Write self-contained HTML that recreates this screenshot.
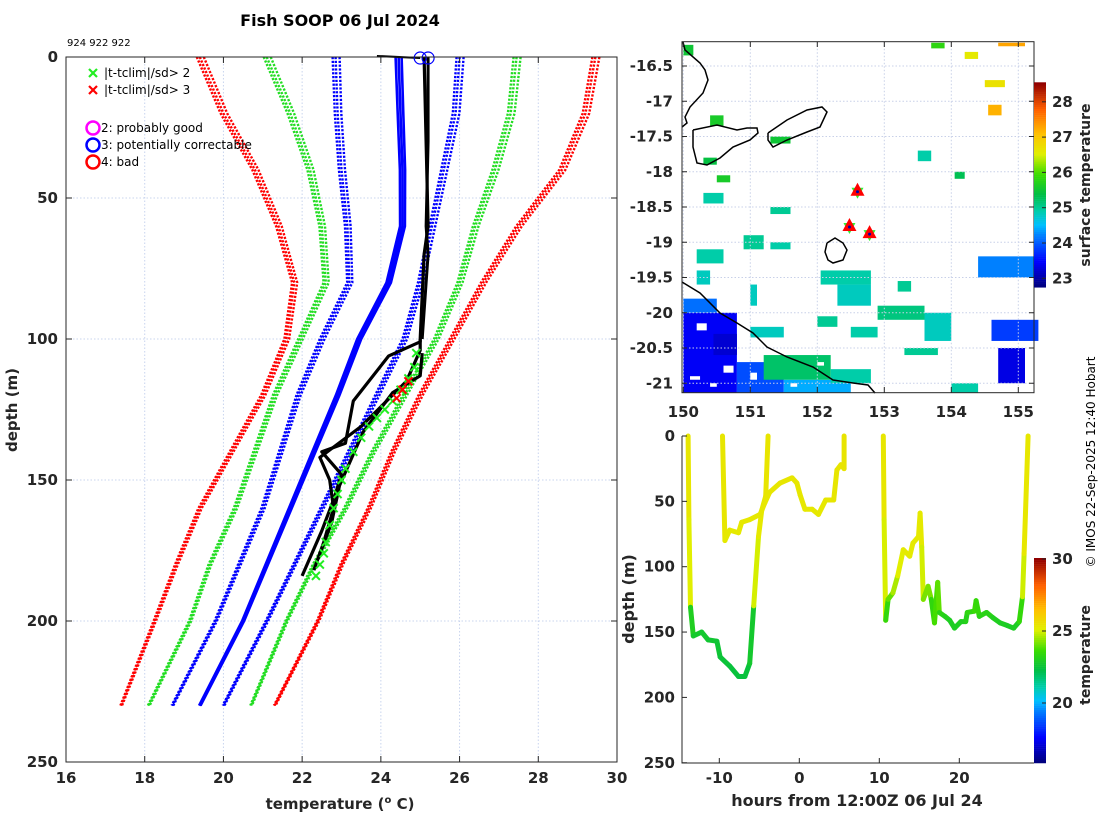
<!DOCTYPE html>
<html><head><meta charset="utf-8"><style>
html,body{margin:0;padding:0;background:#fff;}
svg{display:block;font-family:"DejaVu Sans","Liberation Sans",sans-serif;}
.tk{font-size:15px;font-weight:bold;fill:#262626;}
.lg{font-size:12px;fill:#000;}
</style></head><body>
<svg id="fig" width="1100" height="820" viewBox="0 0 1100 820" xmlns="http://www.w3.org/2000/svg">
<rect width="1100" height="820" fill="#fff"/>
<text x="340" y="26" text-anchor="middle" font-size="16" font-weight="bold">Fish SOOP 06 Jul 2024</text>
<text x="67" y="46" font-size="10">924 922 922</text>
<g id="left"></g>
<g id="map"></g>
<g id="bot"></g>
<text transform="translate(1095,462) rotate(-90)" text-anchor="middle" font-size="12">© IMOS 22-Sep-2025 12:40 Hobart</text>
</svg>
<script>
// ---------- data: left profile plot ----------
const climDepths = [0,20,40,60,80,100,120,140,160,180,200,230];
const climMean   = [24.45,24.5,24.55,24.55,24.2,23.45,22.9,22.3,21.7,21.1,20.5,19.4];
const blueLow    = [22.85,22.9,23.0,23.15,23.2,22.5,21.9,21.45,21.0,20.4,19.8,18.7];
const blueHigh   = [26.0,25.9,25.6,25.3,25.0,24.6,23.9,23.2,22.5,21.8,21.1,20.0];
const greenLow   = [21.1,21.7,22.2,22.5,22.6,21.95,21.3,20.8,20.3,19.65,19.15,18.1];
const greenHigh  = [27.45,27.3,26.9,26.4,26.0,25.4,24.6,23.8,23.1,22.3,21.6,20.7];
const redLow     = [19.4,20.0,20.8,21.4,21.8,21.6,21.0,20.2,19.4,18.8,18.25,17.4];
const redHigh    = [29.45,29.2,28.6,27.5,26.6,25.8,25.0,24.3,23.7,23.0,22.4,21.3];
const cast1Depth = [0,30,60,70,100,101,106,122,137,140,148,157,168,184];
const cast1Temp  = [25.1,25.15,25.2,25.1,25.0,25.0,24.2,23.3,23.1,22.5,23.0,22.8,22.5,22.0];
const cast2Depth = [100,104,115,124,131,142,150,160,172,182];
const cast2Temp  = [25.0,25.0,24.65,24.0,23.5,22.45,22.7,22.8,22.55,22.3];
const cast3Depth = [105,113,119,133,152,165,178];
const cast3Temp  = [25.05,25.0,24.3,23.55,22.95,22.75,22.4];
const flagDepth  = [105,110,114,118,122,125,128,131,135,140,146,150,155,160,166,172,176,180,184];
const flagTemp   = [24.9,24.85,24.7,24.5,24.3,24.1,23.9,23.7,23.5,23.3,23.1,23.0,22.9,22.8,22.7,22.6,22.55,22.45,22.35];
const badDepth   = [115,118,121];
const badTemp    = [24.7,24.55,24.4];
const tempTicks  = [16,18,20,22,24,26,28,30];
const depthTicks = [0,50,100,150,200,250];
// ---------- data: bottom depth-time ----------
const segAHours = [-13.9,-13.8,-13.6,-13.25,-12.2,-11.4,-10.3,-9.9,-8.7,-7.6,-6.8,-6.2,-5.7,-5.1,-4.7,-4.2,-3.9];
const segADepth = [0,64,131,153,150,156,157,169,176,184,184,174,130,77,57,46,0];
const segBHours = [-9.6,-9.3,-8.7,-7.6,-7.2,-6.2,-4.9,-4.3,-3.7,-2.4,-0.9,-0.3,0.1,0.7,1.6,2.4,3.3,4.3,4.7,5.2,5.6,5.6];
const segBDepth = [0,80,72,74,66,64,60,51,43,36,32,36,45,56,56,60,49,49,26,22,25,0];
const segCHours = [10.5,10.6,10.8,11.1,11.7,12.3,13,13.8,14.2,14.9,15.1,15.3,15.5,16.1,16.5,16.9,17.3,17.5,18.2,18.8,19.4,20.2,20.8,21,21.9,22.1,22.5,23.4,24.2,25.1,26,26.8,27.5,27.9,28.1,28.6];
const segCDepth = [0,64,141,125,120,107,87,92,82,77,59,85,125,115,125,143,112,135,138,141,147,142,142,135,134,126,138,135,139,143,145,147,142,123,90,0];
const colorDepth = [0,90,110,125,140,155,190];
const colorTemp  = [25.4,25.2,24.8,23.8,23.0,22.6,22.3];
const hourTicks  = [-10,0,10,20];
const botDepthTicks = [0,50,100,150,200,250];
const cbar2Ticks = [20,25,30];
// ---------- data: map ----------
const lonTicks = [150,151,152,153,154,155];
const latTicks = [-16.5,-17,-17.5,-18,-18.5,-19,-19.5,-20,-20.5,-21];
const cbar1Ticks = [23,24,25,26,27,28];
const dropLon = [152.6,152.48,152.78];
const dropLat = [-18.27,-18.77,-18.87];
const sstPatches = [
 [150,-20.0,150.8,-21.13,23.4],[150.45,-20.3,150.8,-20.6,23.2],[150.8,-20.7,151.5,-21.13,23.9],[151.5,-20.95,152.5,-21.13,24.4],
 [150.0,-19.8,150.5,-20.0,24.1],[151.2,-20.6,152.2,-20.95,25.2],[152.2,-20.8,152.8,-21.0,24.9],
 [152.05,-19.4,152.8,-19.6,24.9],[152.3,-19.6,152.8,-19.9,24.8],[152.9,-19.9,153.6,-20.1,25.1],[153.6,-20.0,154.0,-20.4,24.8],
 [150.3,-18.3,150.6,-18.45,24.9],[150.9,-18.9,151.2,-19.1,25.0],[151.3,-18.5,151.6,-18.6,25.0],[151.3,-19.0,151.6,-19.1,24.9],
 [150.2,-19.1,150.6,-19.3,24.9],[150.2,-19.4,150.4,-19.6,24.8],[151.0,-19.6,151.1,-19.9,24.8],[153.2,-19.55,153.4,-19.7,25.0],
 [151.0,-20.2,151.5,-20.35,24.8],[152.5,-20.2,152.9,-20.35,24.9],[153.3,-20.5,153.8,-20.6,25.0],[152.0,-20.05,152.3,-20.2,25.0],
 [154.4,-19.2,155.3,-19.5,24.2],[154.6,-20.1,155.3,-20.4,23.8],[154.7,-20.5,155.1,-21.0,23.3],[154.0,-21.0,154.4,-21.13,24.9],
 [154.5,-16.7,154.8,-16.8,26.7],[154.55,-17.05,154.75,-17.2,27.2],[154.7,-16.17,155.1,-16.22,27.3],[153.7,-16.17,153.9,-16.25,25.8],[154.2,-16.3,154.4,-16.4,26.6],
 [150.4,-17.2,150.6,-17.35,25.6],[151.3,-17.5,151.6,-17.6,25.5],[150.3,-17.8,150.5,-17.9,25.4],[150.5,-18.05,150.7,-18.15,25.6],[150.0,-16.2,150.15,-16.35,25.5],
 [153.5,-17.7,153.7,-17.85,24.9],[154.05,-18.0,154.2,-18.1,25.3]
];
// ---------- helpers ----------
const NS='http://www.w3.org/2000/svg';
function mk(tag,parent,attrs){const e=document.createElementNS(NS,tag);for(const k in attrs)e.setAttribute(k,attrs[k]);parent.appendChild(e);return e;}
const cstops=[[0,[0,0,127]],[0.12,[0,0,255]],[0.25,[0,128,255]],[0.3,[0,192,255]],[0.37,[0,205,170]],[0.45,[0,190,70]],[0.55,[60,220,0]],[0.65,[225,240,0]],[0.75,[255,192,0]],[0.87,[255,96,0]],[1,[144,0,0]]];
function cmap(t){t=Math.max(0,Math.min(1,t));for(let i=1;i<cstops.length;i++){if(t<=cstops[i][0]){const a=cstops[i-1],b=cstops[i];const f=(t-a[0])/(b[0]-a[0]);const c=a[1].map((v,j)=>Math.round(v+(b[1][j]-v)*f));return `rgb(${c})`;}}return 'rgb(144,0,0)';}
function interp(x,xs,ys){if(x<=xs[0])return ys[0];for(let i=1;i<xs.length;i++){if(x<=xs[i]){return ys[i-1]+(ys[i]-ys[i-1])*(x-xs[i-1])/(xs[i]-xs[i-1]);}}return ys[ys.length-1];}

// ---------- left plot ----------
const L=document.getElementById('left');
const xT=t=>66+(t-16)*39.357, yD=d=>57+d*2.82;
tempTicks.forEach(t=>{if(t>16&&t<30){const g=mk('line',L,{x1:xT(t),x2:xT(t),y1:57,y2:762,stroke:'#c8d4ee','stroke-dasharray':'1.5 2','stroke-width':1});}});
depthTicks.forEach(d=>{if(d>0&&d<250){const g=mk('line',L,{x1:66,x2:617,y1:yD(d),y2:yD(d),stroke:'#c8d4ee','stroke-dasharray':'1.5 2','stroke-width':1});}});
function dline(vals,color,dash,w,off,name){
  const pts=climDepths.map((d,i)=>(xT(vals[i])+off*(1-d/300)).toFixed(1)+','+yD(d).toFixed(1)).join(' ');
  const p=mk('polyline',L,{points:pts,fill:'none',stroke:color,'stroke-width':w});
  if(dash)p.setAttribute('stroke-dasharray',dash);
  
  
}
[[redLow,'#ff0000','red-low-bound'],[redHigh,'#ff0000','red-high-bound'],[greenLow,'#22dd22','green-low-bound'],[greenHigh,'#22dd22','green-high-bound'],[blueLow,'#0000ff','blue-low-bound'],[blueHigh,'#0000ff','blue-high-bound']].forEach(([v,c,n])=>{
  [-3,0,4].forEach(o=>dline(v,c,'2.2 1.6',2.4,o,n));
});
[-3,0,3].forEach(o=>dline(climMean,'#0000ff',null,2.6,o,'climatology-mean'));
const surf=mk('line',L,{x1:xT(23.9),y1:56,x2:xT(25.0),y2:58,stroke:'#000','stroke-width':2});


[[cast1Depth,cast1Temp,'cast-1'],[cast2Depth,cast2Temp,'cast-2'],[cast3Depth,cast3Temp,'cast-3']].forEach(([ds,ts,n])=>{
  const p=mk('polyline',L,{points:ds.map((d,i)=>xT(ts[i]).toFixed(1)+','+yD(d).toFixed(1)).join(' '),fill:'none',stroke:'#000','stroke-width':3.2,'stroke-linejoin':'round'});
  
  
});
const castUp=mk('polyline',L,{points:[0,30,60,70,100].map((d,i)=>xT([25.2,25.2,25.15,25.2,25.05][i])+','+yD(d)).join(' '),fill:'none',stroke:'#000','stroke-width':3});


function xmark(x,y,c,name){const g=mk('g',L,{});
  mk('line',g,{x1:x-4,y1:y-4,x2:x+4,y2:y+4,stroke:c,'stroke-width':2});mk('line',g,{x1:x-4,y1:y+4,x2:x+4,y2:y-4,stroke:c,'stroke-width':2});}
flagDepth.forEach((d,i)=>xmark(xT(flagTemp[i]),yD(d),'#22ee22','flag-2sd'));
badDepth.forEach((d,i)=>xmark(xT(badTemp[i]),yD(d),'#ff0000','flag-3sd'));
[25.0,25.2].forEach(t=>{const c=mk('circle',L,{cx:xT(t),cy:58,r:6,fill:'none',stroke:'#0000ff','stroke-width':1.2});});
const fr=mk('rect',L,{x:66,y:57,width:551,height:705,fill:'none',stroke:'#262626','stroke-width':1});


tempTicks.forEach(t=>{mk('line',L,{x1:xT(t),x2:xT(t),y1:762,y2:756,stroke:'#262626'});mk('line',L,{x1:xT(t),x2:xT(t),y1:57,y2:63,stroke:'#262626'});
  const e=mk('text',L,{x:xT(t),y:783,'text-anchor':'middle',class:'tk'});e.textContent=t;});
depthTicks.forEach(d=>{mk('line',L,{x1:66,x2:72,y1:yD(d),y2:yD(d),stroke:'#262626'});mk('line',L,{x1:617,x2:611,y1:yD(d),y2:yD(d),stroke:'#262626'});
  const e=mk('text',L,{x:58,y:yD(d)+5,'text-anchor':'end',class:'tk'});e.textContent=d;});
let e=mk('text',L,{x:340,y:809,'text-anchor':'middle','font-size':15,'font-weight':'bold',fill:'#262626'});
e.innerHTML='temperature (<tspan dy="-6" font-size="10">o</tspan><tspan dy="6"> C)</tspan>';


e=mk('text',L,{transform:'translate(17,410) rotate(-90)','text-anchor':'middle','font-size':15,'font-weight':'bold',fill:'#262626'});e.textContent='depth (m)';


const lgItems=[['x','#22ee22','|t-tclim|/sd> 2',73],['x','#ff0000','|t-tclim|/sd> 3',90],['o','#ff00ff','2: probably good',128],['o','#0000ff','3: potentially correctable',145],['o','#ff0000','4: bad',162]];
lgItems.forEach(([k,c,txt,y])=>{
  const g=mk('g',L,{});
  if(k==='x'){mk('line',g,{x1:89,y1:y-4,x2:97,y2:y+4,stroke:c,'stroke-width':2.2});mk('line',g,{x1:89,y1:y+4,x2:97,y2:y-4,stroke:c,'stroke-width':2.2});}
  else mk('circle',g,{cx:93,cy:y,r:6.5,fill:'none',stroke:c,'stroke-width':2.5});
  const t=mk('text',g,{x:k==='x'?104:101,y:y+4,class:'lg'});t.textContent=txt;
});

// ---------- map ----------
const M=document.getElementById('map');
const xL=lon=>683.3+(lon-150)*67, yL=lat=>66+(-16.5-lat)*70.5;
const sstT=v=>(v-22.75)/5.8;
sstPatches.forEach(p=>{const r=mk('rect',M,{x:xL(p[0]),y:yL(p[1]),width:xL(p[2])-xL(p[0]),height:yL(p[3])-yL(p[1]),fill:cmap(sstT(p[4]))});
  });
[[150.2,-20.15,150.35,-20.25],[150.6,-20.75,150.75,-20.85],[150.1,-20.9,150.25,-20.95],[150.4,-21.0,150.5,-21.05],[151.0,-20.85,151.1,-20.95],[151.6,-21.0,151.7,-21.05],[152.0,-20.7,152.1,-20.75]].forEach(p=>{mk('rect',M,{x:xL(p[0]),y:yL(p[1]),width:xL(p[2])-xL(p[0]),height:yL(p[3])-yL(p[1]),fill:'#fff'});});
lonTicks.forEach(l=>{const g=mk('line',M,{x1:xL(l),x2:xL(l),y1:41.7,y2:392.7,stroke:'#c8d0e8','stroke-dasharray':'1.5 2'});});
latTicks.forEach(l=>{const g=mk('line',M,{x1:682,x2:1034,y1:yL(l),y2:yL(l),stroke:'#c8d0e8','stroke-dasharray':'1.5 2'});});
const coasts=[
 '693,130 717,125 737,130 747,128 757,128 758,133 750,140 733,147 720,158 707,165 697,163 693,147 693,130',
 '768,133 787,120 807,110 822,107 827,112 820,127 807,132 787,140 773,147 768,140 768,133',
 '827,243 835,238 843,243 847,250 843,260 833,263 828,260 825,252 827,243',
 '683,42 685,50 700,63 705,70 708,80 703,93 690,107 685,117 687,123 682,127',
 '682,282 700,293 720,313 737,323 753,333 767,347 787,357 813,367 833,380 853,383 868,385 875,393'];
coasts.forEach(c=>{const p=mk('polyline',M,{points:c,fill:'none',stroke:'#000','stroke-width':1.5});});
dropLon.forEach((lo,i)=>{const x=xL(lo),y=yL(dropLat[i]);const g=mk('g',M,{});
  mk('polygon',g,{points:`${x-6},${y-3} ${x+6},${y-3} ${x},${y+8}`,fill:'#33ee33'});
  mk('polygon',g,{points:`${x},${y-8} ${x-7},${y+5} ${x+7},${y+5}`,fill:'#ff0000'});
  mk('circle',g,{cx:x,cy:y+1,r:1.5,fill:'#0000aa'});});
let mf=mk('rect',M,{x:682,y:41.7,width:352,height:351,fill:'none',stroke:'#262626'});


lonTicks.forEach(l=>{mk('line',M,{x1:xL(l),x2:xL(l),y1:392.7,y2:387,stroke:'#262626'});mk('line',M,{x1:xL(l),x2:xL(l),y1:41.7,y2:47,stroke:'#262626'});
  const t=mk('text',M,{x:xL(l),y:417,'text-anchor':'middle',class:'tk'});t.textContent=l;});
latTicks.forEach(l=>{mk('line',M,{x1:682,x2:687,y1:yL(l),y2:yL(l),stroke:'#262626'});mk('line',M,{x1:1034,x2:1029,y1:yL(l),y2:yL(l),stroke:'#262626'});
  const t=mk('text',M,{x:673,y:yL(l)+5,'text-anchor':'end',class:'tk'});t.textContent=l;});
const cb1=mk('g',M,{});
for(let i=0;i<100;i++){const y0=82.3+i*2.05;mk('rect',cb1,{x:1034,y:y0,width:12,height:2.3,fill:cmap(1-i/99)});}
const yC1=v=>278.3-(v-23)*35.3;
cbar1Ticks.forEach(v=>{mk('line',cb1,{x1:1046,x2:1042,y1:yC1(v),y2:yC1(v),stroke:'#262626'});const t=mk('text',cb1,{x:1052,y:yC1(v)+5,class:'tk','font-size':14});t.textContent=v;});
const ct1=mk('text',M,{transform:'translate(1090,185) rotate(-90)','text-anchor':'middle','font-size':14,'font-weight':'bold',fill:'#262626'});ct1.textContent='surface temperature';



// ---------- bottom ----------
const B=document.getElementById('bot');
const xH=h=>799.3+h*8, yB=d=>436+d*1.307;
const tempT=v=>(v-15.8)/14.2;
function seg(hs,ds,name){
  const g=mk('g',B,{});
  for(let i=1;i<hs.length;i++){
    const dm=(ds[i]+ds[i-1])/2;
    mk('line',g,{x1:xH(hs[i-1]),y1:yB(ds[i-1]),x2:xH(hs[i]),y2:yB(ds[i]),stroke:cmap(tempT(interp(dm,colorDepth,colorTemp))),'stroke-width':5,'stroke-linecap':'round'});
  }
}
seg(segAHours,segADepth,'profile-track-1');
seg(segBHours,segBDepth,'profile-track-2');
seg(segCHours,segCDepth,'profile-track-3');
let bf=mk('polyline',B,{points:'682,436 682,763 1034,763',fill:'none',stroke:'#262626'});


hourTicks.forEach(h=>{mk('line',B,{x1:xH(h),x2:xH(h),y1:763,y2:758,stroke:'#262626'});
  const t=mk('text',B,{x:xH(h),y:783,'text-anchor':'middle',class:'tk'});t.textContent=h;});
botDepthTicks.forEach(d=>{mk('line',B,{x1:682,x2:687,y1:yB(d),y2:yB(d),stroke:'#262626'});
  const t=mk('text',B,{x:675,y:yB(d)+5,'text-anchor':'end',class:'tk'});t.textContent=d;});
e=mk('text',B,{x:857,y:806,'text-anchor':'middle','font-size':16,'font-weight':'bold',fill:'#262626'});e.textContent='hours from 12:00Z 06 Jul 24';


e=mk('text',B,{transform:'translate(634,599) rotate(-90)','text-anchor':'middle','font-size':16,'font-weight':'bold',fill:'#262626'});e.textContent='depth (m)';


const cb2=mk('g',B,{});
for(let i=0;i<100;i++){const y0=558+i*2.05;mk('rect',cb2,{x:1034,y:y0,width:12,height:2.3,fill:cmap(1-i/99)});}
const yC2=v=>703-(v-20)*14.4;
cbar2Ticks.forEach(v=>{mk('line',cb2,{x1:1046,x2:1042,y1:yC2(v),y2:yC2(v),stroke:'#262626'});const t=mk('text',cb2,{x:1052,y:yC2(v)+5,class:'tk','font-size':14});t.textContent=v;});
e=mk('text',B,{transform:'translate(1090,655) rotate(-90)','text-anchor':'middle','font-size':14,'font-weight':'bold',fill:'#262626'});e.textContent='temperature';


</script>
</body></html>
